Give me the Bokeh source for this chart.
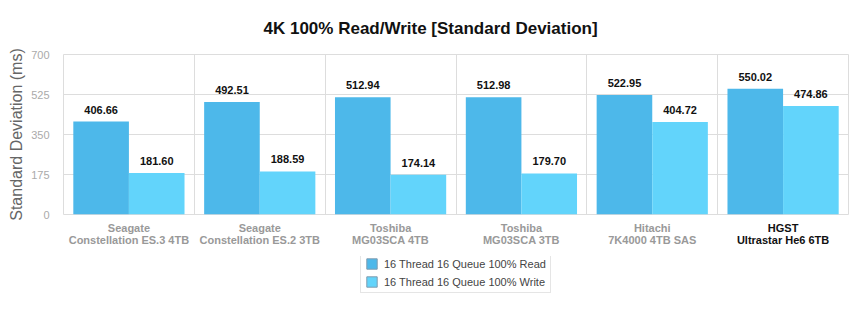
from bokeh.plotting import figure
from bokeh.layouts import column
from bokeh.models import (ColumnDataSource, Range1d, FixedTicker, LabelSet,
                          LinearAxis, Legend, LegendItem)
from bokeh.core.properties import value
from bokeh.transform import dodge
from bokeh.embed import file_html
from bokeh.resources import INLINE

brands = ["Seagate", "Seagate", "Toshiba", "Toshiba", "Hitachi", "HGST"]
models = ["Constellation ES.3 4TB", "Constellation ES.2 3TB", "MG03SCA 4TB",
          "MG03SCA 3TB", "7K4000 4TB SAS", "Ultrastar He6 6TB"]
read_vals = [406.66, 492.51, 512.94, 512.98, 522.95, 550.02]
write_vals = [181.60, 188.59, 174.14, 179.70, 404.72, 474.86]
y_ticks = [0, 175, 350, 525, 700]
series_names = ["16 Thread 16 Queue 100% Read", "16 Thread 16 Queue 100% Write"]

FONT = "Liberation Sans"
READ_C = "#4db8ea"
WRITE_C = "#62d4fb"

idx = list(range(len(brands)))
src = ColumnDataSource(dict(
    x=idx, read=read_vals, write=write_vals,
    read_t=["%.2f" % v for v in read_vals],
    write_t=["%.2f" % v for v in write_vals],
))

p = figure(width=850, height=256, output_backend="svg", toolbar_location=None,
           x_range=Range1d(-0.5, len(brands) - 0.5), y_range=Range1d(0, 700),
           min_border_left=63, min_border_right=2, min_border_top=54,
           min_border_bottom=42)

p.title.text = "4K 100% Read/Write [Standard Deviation]"
p.title.text_font = FONT
p.title.text_font_size = "17px"
p.title.text_font_style = "bold"
p.title.text_color = "#111111"
p.title.align = "left"
p.title.offset = 200
p.title.standoff = 33

bw = 0.425
r1 = p.vbar(x=dodge("x", -bw / 2, range=p.x_range), top="read", width=bw,
            source=src, fill_color=READ_C, line_color=None)
r2 = p.vbar(x=dodge("x", bw / 2, range=p.x_range), top="write", width=bw,
            source=src, fill_color=WRITE_C, line_color=None)

for col, off in (("read_t", -bw / 2), ("write_t", bw / 2)):
    ls = LabelSet(x=dodge("x", off, range=p.x_range), y=col.split("_")[0], text=col,
                  source=src, text_align="center", text_baseline="bottom",
                  y_offset=8, text_font=value(FONT), text_font_size="11px",
                  text_font_style="bold", text_color="#111111")
    p.add_layout(ls)

# y axis
p.yaxis.ticker = FixedTicker(ticks=y_ticks)
p.yaxis.axis_line_color = None
p.yaxis.major_tick_line_color = None
p.yaxis.minor_tick_line_color = None
p.yaxis.major_label_text_font = FONT
p.yaxis.major_label_text_font_size = "11px"
p.yaxis.major_label_text_color = "#aaaaaa"
p.yaxis.major_label_standoff = 8
p.yaxis.axis_label = "Standard Deviation (ms)"
p.yaxis.axis_label_text_font = FONT
p.yaxis.axis_label_text_font_size = "16px"
p.yaxis.axis_label_text_font_style = "normal"
p.yaxis.axis_label_text_color = "#666666"
p.yaxis.axis_label_standoff = 3


def style_x(ax, color):
    ax.axis_line_color = None
    ax.major_tick_line_color = None
    ax.minor_tick_line_color = None
    ax.major_label_text_font = FONT
    ax.major_label_text_font_size = "11px"
    ax.major_label_text_font_style = "bold"
    ax.major_label_text_color = color
    ax.major_label_text_line_height = 1.07


# x axis (gray labels) + highlighted last label (black)
p.xaxis.ticker = FixedTicker(ticks=idx)
overrides = {i: "%s\n%s" % (b, m) for i, (b, m) in enumerate(zip(brands, models))}
overrides[idx[-1]] = " "
p.xaxis.major_label_overrides = overrides
p.xaxis.major_label_standoff = 1
style_x(p.xaxis[0], "#999999")

ax2 = LinearAxis(ticker=FixedTicker(ticks=[idx[-1]]),
                 major_label_overrides={idx[-1]: "%s\n%s" % (brands[-1], models[-1])})
style_x(ax2, "#111111")
ax2.major_label_standoff = -34
p.add_layout(ax2, "below")

# grids
p.xgrid.ticker = FixedTicker(ticks=[i + 0.5 for i in idx[:-1]])
p.xgrid.grid_line_color = "#dddddd"
p.ygrid.grid_line_color = "#dddddd"
p.outline_line_color = "#dddddd"

# legend strip (hidden renderers only provide the legend swatches)
lf = figure(width=850, height=59, output_backend="svg", toolbar_location=None,
            x_range=Range1d(0, 1), y_range=Range1d(0, 1),
            x_axis_type=None, y_axis_type=None, min_border=0)
lf.outline_line_color = None
lr1 = lf.vbar(x="x", top="read", width=bw, source=src, fill_color=READ_C,
              line_color="#7f9cb0", visible=False)
lr2 = lf.vbar(x="x", top="write", width=bw, source=src, fill_color=WRITE_C,
              line_color="#7f9cb0", visible=False)
legend = Legend(items=[LegendItem(label=series_names[0], renderers=[lr1]),
                       LegendItem(label=series_names[1], renderers=[lr2])],
                location=(297, 22), orientation="vertical")
legend.label_text_font = FONT
legend.label_text_font_size = "11px"
legend.label_text_color = "#444444"
legend.glyph_width = 13
legend.glyph_height = 13
legend.label_height = 13
legend.spacing = 5
legend.padding = 4
legend.label_standoff = 6
legend.border_line_color = "#cccccc"
legend.inactive_fill_alpha = 0
legend.margin = 0
lf.add_layout(legend)

layout = column(p, lf, spacing=0)
open("out.html", "w").write(file_html(layout, INLINE))
